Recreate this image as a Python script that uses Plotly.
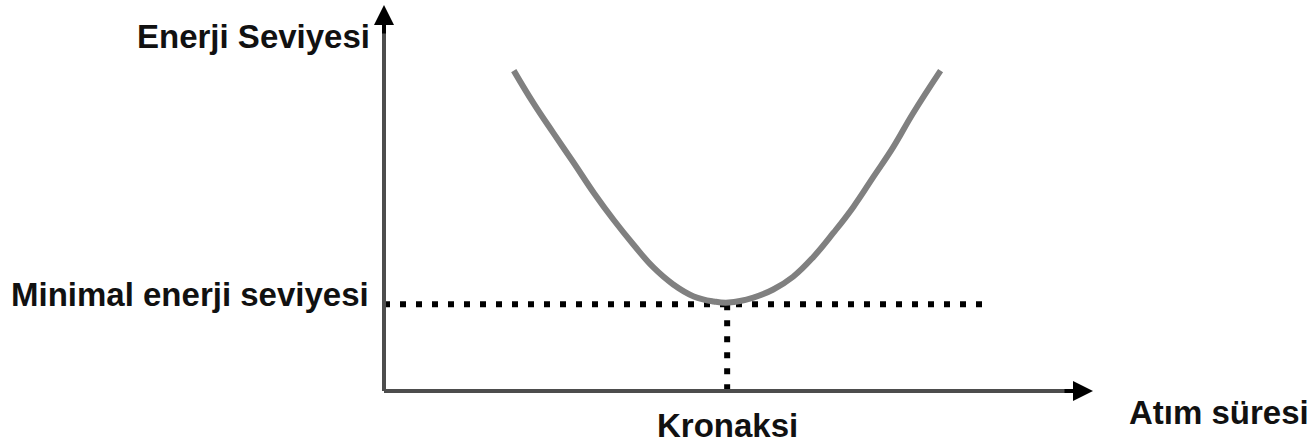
import plotly.graph_objects as go

# Pulse duration (arbitrary units) and energy level (arbitrary units)
pulse_duration = [1.83, 2.11, 2.39, 2.68, 2.96, 3.24, 3.52, 3.80, 4.08, 4.37, 4.65, 4.86,
                  5.21, 5.49, 5.77, 6.06, 6.34, 6.62, 6.90, 7.18, 7.46, 7.85]
energy_level = [8.30, 7.45, 6.68, 5.90, 5.13, 4.43, 3.79, 3.20, 2.76, 2.45, 2.32, 2.29,
                2.42, 2.63, 2.96, 3.48, 4.10, 4.77, 5.54, 6.31, 7.19, 8.30]

chronaxie = 4.84          # Kronaksi
minimal_energy = 2.25     # Minimal enerji seviyesi
guide_end = 8.48          # end of horizontal dotted guide

labels = {
    "y_title": "Enerji Seviyesi",
    "x_title": "Atım süresi",
    "min_label": "Minimal enerji seviyesi",
    "chronaxie_label": "Kronaksi",
}

X_RANGE = [0, 10]
Y_RANGE = [0, 10]

FONT = dict(family="Liberation Sans, Arial, sans-serif", size=33, color="#111111", weight="bold")
AXIS_COLOR = "#4d4d4d"
DOT = dict(color="black", width=6, dash="6px,10px")

fig = go.Figure()

# dotted guides
fig.add_trace(go.Scatter(
    x=[0, guide_end], y=[minimal_energy, minimal_energy], mode="lines",
    line=DOT, hoverinfo="skip"))
fig.add_trace(go.Scatter(
    x=[chronaxie, chronaxie], y=[minimal_energy, 0], mode="lines",
    line=DOT, hoverinfo="skip"))

# curve
fig.add_trace(go.Scatter(
    x=pulse_duration, y=energy_level, mode="lines",
    line=dict(color="#808080", width=6, shape="spline", smoothing=1.2), hoverinfo="skip"))

shapes = [
    dict(type="line", xref="paper", yref="paper", x0=0, x1=0, y0=0, y1=0.96,
         line=dict(color=AXIS_COLOR, width=4)),
    dict(type="line", xref="paper", yref="paper", x0=0, x1=0.98, y0=0, y1=0,
         line=dict(color=AXIS_COLOR, width=4)),
]

annotations = [
    # y axis arrow head
    dict(x=0, y=1, xref="paper", yref="paper", ax=0, ay=30, axref="pixel", ayref="pixel",
         showarrow=True, arrowhead=2, arrowsize=1.0, arrowwidth=4, arrowcolor="black",
         text="", standoff=0),
    # x axis arrow head
    dict(x=1, y=0, xref="paper", yref="paper", ax=-30, ay=0, axref="pixel", ayref="pixel",
         showarrow=True, arrowhead=2, arrowsize=1.0, arrowwidth=4, arrowcolor="black",
         text="", standoff=0),
    dict(x=0, y=1, xref="paper", yref="paper", xanchor="right", yanchor="middle",
         xshift=-12, yshift=-31, text=labels["y_title"], showarrow=False, font=FONT),
    dict(x=0, y=minimal_energy, xref="paper", yref="y", xanchor="right", yanchor="middle",
         xshift=-13, yshift=10, text=labels["min_label"], showarrow=False, font=FONT),
    dict(x=chronaxie, y=0, xref="x", yref="paper", xanchor="center", yanchor="middle",
         yshift=-34, text=labels["chronaxie_label"], showarrow=False, font=FONT),
    dict(x=1, y=0, xref="paper", yref="paper", xanchor="left", yanchor="middle",
         xshift=34, yshift=-21, text=labels["x_title"], showarrow=False, font=FONT),
]

fig.update_layout(
    width=1312, height=444,
    margin=dict(l=384, r=219, t=5, b=53),
    paper_bgcolor="white", plot_bgcolor="white",
    showlegend=False,
    xaxis=dict(range=X_RANGE, visible=False, fixedrange=True),
    yaxis=dict(range=Y_RANGE, visible=False, fixedrange=True),
    shapes=shapes,
    annotations=annotations,
)

fig.write_html("out.html",
               config={"displayModeBar": False},
               post_script="document.body.style.margin='0';document.body.style.overflow='hidden';")
